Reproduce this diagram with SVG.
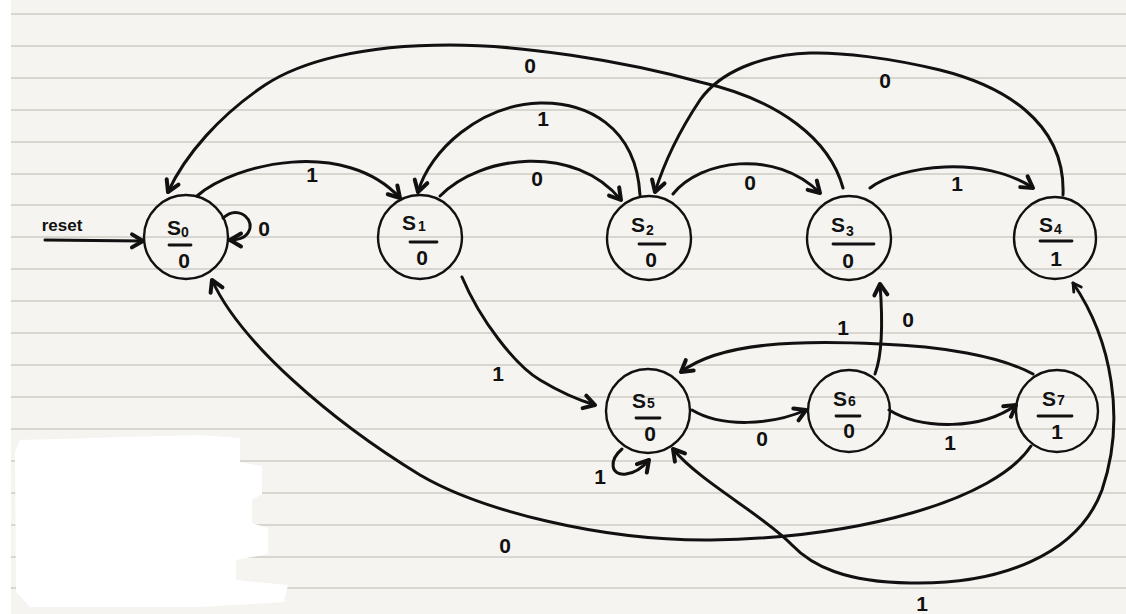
<svg xmlns="http://www.w3.org/2000/svg" width="1126" height="614" viewBox="0 0 1126 614">
  <style>
    .paper { fill: #f6f4f0; }
    .rule { stroke: #cfccc6; stroke-width: 1.6; }
    .state { fill: none; stroke: #111; stroke-width: 2.4; }
    .bar { stroke: #111; stroke-width: 2.8; stroke-linecap: round; }
    .edge { fill: none; stroke: #111; stroke-width: 3; stroke-linecap: round; marker-end: url(#head); }
    .name { font-family: "Liberation Sans", "DejaVu Sans", sans-serif; font-size: 21px; font-weight: bold; fill: #111; }
    .sub { font-size: 14px; }
    .out { font-family: "Liberation Sans", "DejaVu Sans", sans-serif; font-size: 21px; font-weight: bold; fill: #111; text-anchor: middle; }
    .lbl { font-family: "Liberation Sans", "DejaVu Sans", sans-serif; font-size: 21px; font-weight: bold; fill: #111; text-anchor: middle; }
  </style>
  <defs>
    <marker id="head" markerUnits="userSpaceOnUse" markerWidth="30" markerHeight="30" viewBox="-15 -15 30 30" refX="0" refY="0" orient="auto">
      <path d="M-11,-6.5 L0,0 L-11,6.5" fill="none" stroke="#111" stroke-width="4" stroke-linecap="round" stroke-linejoin="round"/>
    </marker>
    <marker id="tail" markerUnits="userSpaceOnUse" markerWidth="30" markerHeight="30" viewBox="-15 -15 30 30" refX="0" refY="0" orient="auto-start-reverse">
      <path d="M-8,-4.5 L0,0 L-8,4.5" fill="none" stroke="#111" stroke-width="2.8" stroke-linecap="round" stroke-linejoin="round"/>
    </marker>
  </defs>

  <!-- ruled notebook paper -->
  <rect class="paper" x="0" y="0" width="1126" height="614"/>
  <g id="rules">
    <line class="rule" x1="11" y1="14" x2="1126" y2="14"/>
    <line class="rule" x1="11" y1="46" x2="1126" y2="46"/>
    <line class="rule" x1="11" y1="78" x2="1126" y2="78"/>
    <line class="rule" x1="11" y1="110" x2="1126" y2="110"/>
    <line class="rule" x1="11" y1="142" x2="1126" y2="142"/>
    <line class="rule" x1="11" y1="174" x2="1126" y2="174"/>
    <line class="rule" x1="11" y1="205" x2="1126" y2="205"/>
    <line class="rule" x1="11" y1="237" x2="1126" y2="237"/>
    <line class="rule" x1="11" y1="269" x2="1126" y2="269"/>
    <line class="rule" x1="11" y1="301" x2="1126" y2="301"/>
    <line class="rule" x1="11" y1="333" x2="1126" y2="333"/>
    <line class="rule" x1="11" y1="365" x2="1126" y2="365"/>
    <line class="rule" x1="11" y1="397" x2="1126" y2="397"/>
    <line class="rule" x1="11" y1="429" x2="1126" y2="429"/>
    <line class="rule" x1="11" y1="461" x2="1126" y2="461"/>
    <line class="rule" x1="11" y1="493" x2="1126" y2="493"/>
    <line class="rule" x1="11" y1="525" x2="1126" y2="525"/>
    <line class="rule" x1="11" y1="557" x2="1126" y2="557"/>
    <line class="rule" x1="11" y1="588" x2="1126" y2="588"/>
  </g>
  <rect x="0" y="0" width="11" height="614" fill="#ffffff"/>
  <!-- whited-out patch -->
  <path fill="#ffffff" d="M20,440 L200,435 L240,438 L240,462 L262,466 L262,494 L252,500 L252,523 L268,528 L268,554 L236,560 L236,580 L288,585 L284,602 L200,607 L30,607 L16,592 L15,452 Z"/>

  <g id="connectors">
    <!-- reset -->
    <path class="edge" d="M45,240 L143,241"/>
    <text class="lbl" x="62" y="231" style="font-size:17px">reset</text>
    <!-- S0 self loop, 0 -->
    <path class="edge" d="M223,218 C236,206 252,216 250,228 C248,237 240,240 230,240"/>
    <text class="lbl" x="264" y="236">0</text>
    <!-- S0 -> S1, 1 -->
    <path class="edge" d="M197,196 C235,163 345,138 400,198"/>
    <text class="lbl" x="312" y="182">1</text>
    <!-- S1 -> S2, 0 -->
    <path class="edge" d="M440,196 C480,155 575,143 621,200"/>
    <text class="lbl" x="537" y="186">0</text>
    <!-- S2 -> S1, 1 -->
    <path class="edge" d="M640,195 C636,125 585,102 540,103 C480,105 430,150 418,192"/>
    <text class="lbl" x="543" y="126">1</text>
    <!-- S3 -> S0, 0 -->
    <path class="edge" d="M843,188 C830,140 780,100 700,82 C620,60 520,45 450,45 C360,45 300,62 265,85 C220,115 185,155 168,192"/>
    <text class="lbl" x="530" y="73">0</text>
    <!-- S4 -> S2, 0 -->
    <path class="edge" d="M1063,195 C1066,120 1000,85 940,70 C890,58 840,52 810,53 C760,55 720,72 700,100 C680,130 665,160 655,192"/>
    <text class="lbl" x="885" y="88">0</text>
    <!-- S2 -> S3, 0 -->
    <path class="edge" d="M673,194 C700,160 775,148 820,193"/>
    <text class="lbl" x="750" y="190">0</text>
    <!-- S3 -> S4, 1 -->
    <path class="edge" d="M870,188 C900,165 985,155 1033,188"/>
    <text class="lbl" x="957" y="191">1</text>
    <!-- S1 -> S5, 1 -->
    <path class="edge" d="M462,277 C480,320 515,365 540,380 C560,392 578,400 595,405"/>
    <text class="lbl" x="498" y="381">1</text>
    <!-- S5 -> S6, 0 -->
    <path class="edge" d="M692,410 C722,428 772,425 806,410"/>
    <text class="lbl" x="762" y="446">0</text>
    <!-- S6 -> S7, 1 -->
    <path class="edge" d="M889,410 C922,430 982,430 1016,405"/>
    <text class="lbl" x="950" y="450">1</text>
    <!-- S6 -> S3, 0 -->
    <path class="edge" d="M875,374 C884,350 882,310 880,284"/>
    <text class="lbl" x="908" y="327">0</text>
    <!-- S7 -> S5, 1 -->
    <path class="edge" d="M1033,374 C1000,356 940,346 880,344 C800,340 720,342 681,372"/>
    <text class="lbl" x="843" y="335">1</text>
    <!-- S5 self loop, 1 -->
    <path class="edge" d="M622,449 C609,460 610,476 626,474 C636,473 643,467 649,460"/>
    <text class="lbl" x="600" y="484">1</text>
    <!-- S7 -> S0, 0 -->
    <path class="edge" d="M1031,446 C995,500 860,538 711,540 C600,541 480,510 420,475 C330,420 240,342 212,280"/>
    <text class="lbl" x="505" y="553">0</text>
    <!-- S4 -> S5, 1 -->
    <path class="edge" style="marker-start:url(#tail)" d="M1073,283 C1112,340 1126,420 1102,490 C1078,555 1000,585 910,583 C845,582 812,566 792,545 C762,514 700,482 673,449"/>
    <text class="lbl" x="922" y="611">1</text>
  </g>

  <g id="s0">
    <circle class="state" cx="186" cy="237" r="42"/>
    <text class="name" x="167" y="235">S<tspan class="sub" dy="2">0</tspan></text>
    <line class="bar" x1="169" y1="245" x2="191" y2="245"/>
    <text class="out" x="184" y="268">0</text>
  </g>
  <g id="s1">
    <circle class="state" cx="420" cy="237" r="42"/>
    <text class="name" x="402" y="230">S<tspan class="sub" dx="2" dy="1">1</tspan></text>
    <line class="bar" x1="410" y1="242" x2="437" y2="242"/>
    <text class="out" x="422" y="265">0</text>
  </g>
  <g id="s2">
    <circle class="state" cx="649" cy="238" r="42"/>
    <text class="name" x="631" y="232">S<tspan class="sub" dx="1" dy="3">2</tspan></text>
    <line class="bar" x1="639" y1="244" x2="665" y2="244"/>
    <text class="out" x="651" y="267">0</text>
  </g>
  <g id="s3">
    <circle class="state" cx="849" cy="238" r="42"/>
    <text class="name" x="831" y="232">S<tspan class="sub" dx="1" dy="4">3</tspan></text>
    <line class="bar" x1="833" y1="244" x2="874" y2="244"/>
    <text class="out" x="848" y="268">0</text>
  </g>
  <g id="s4">
    <circle class="state" cx="1055" cy="238" r="41"/>
    <text class="name" x="1039" y="232">S<tspan class="sub" dx="1" dy="2">4</tspan></text>
    <line class="bar" x1="1040" y1="241" x2="1072" y2="241"/>
    <text class="out" x="1056" y="266">1</text>
  </g>
  <g id="s5">
    <circle class="state" cx="648" cy="411" r="42"/>
    <text class="name" x="632" y="408">S<tspan class="sub" dx="1" dy="0">5</tspan></text>
    <line class="bar" x1="636" y1="418" x2="660" y2="418"/>
    <text class="out" x="650" y="441">0</text>
  </g>
  <g id="s6">
    <circle class="state" cx="849" cy="411" r="41"/>
    <text class="name" x="833" y="406">S<tspan class="sub" dx="1" dy="0">6</tspan></text>
    <line class="bar" x1="836" y1="416" x2="860" y2="416"/>
    <text class="out" x="849" y="438">0</text>
  </g>
  <g id="s7">
    <circle class="state" cx="1057" cy="411" r="41"/>
    <text class="name" x="1042" y="406">S<tspan class="sub" dx="1" dy="-1">7</tspan></text>
    <line class="bar" x1="1038" y1="416" x2="1072" y2="416"/>
    <text class="out" x="1057" y="439">1</text>
  </g>
</svg>
